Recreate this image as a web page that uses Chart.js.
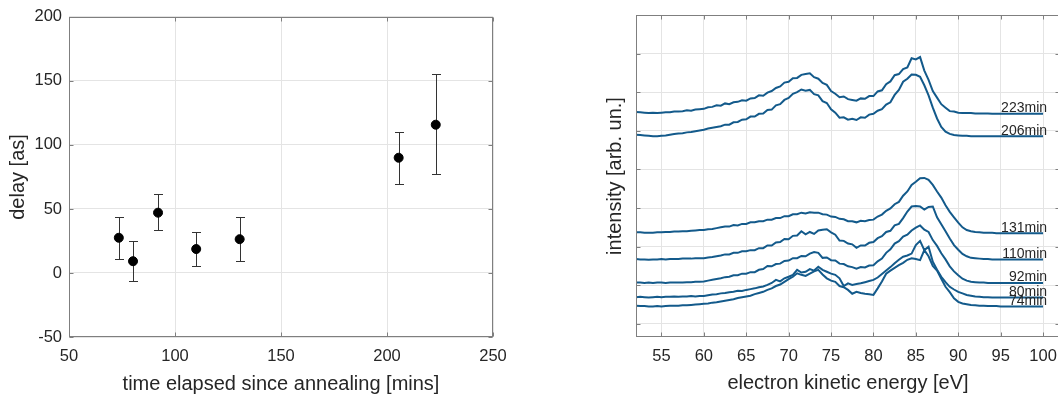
<!DOCTYPE html>
<html>
<head>
<meta charset="utf-8">
<script src="https://cdn.jsdelivr.net/npm/chart.js@4.4.1/dist/chart.umd.min.js"></script>
<style>
  html, body { margin: 0; padding: 0; background: #fff; overflow: hidden; }
  #left { position: absolute; left: 0; top: 0; }
  #right { position: absolute; left: 590px; top: 0; }
</style>
</head>
<body>
<canvas id="left" width="530" height="396"></canvas>
<canvas id="right" width="480" height="396"></canvas>
<script>
// Left panel: delay vs time
const times = [73.5, 80.2, 92, 110, 130.5, 205.5, 223];
const delay = [27.5, 9.2, 47.1, 18.7, 26.4, 90.0, 115.8];
const errLo = [11.2, -6.3, 33.2, 5.8, 9.7, 69.6, 77.0];
const errHi = [43.8, 24.7, 61.6, 32.1, 43.5, 110.1, 155.3];
const timeTicks = [50, 100, 150, 200, 250];
const delayTicks = [-50, 0, 50, 100, 150, 200];

// Right panel: spectra (offset, arb. units)
const energy = [52,52.5,53,53.5,54,54.5,55,55.5,56,56.5,
  57,57.5,58,58.5,59,59.5,60,60.5,61,61.5,
  62,62.5,63,63.5,64,64.5,65,65.5,66,66.5,
  67,67.5,68,68.5,69,69.5,70,70.5,71,71.5,
  72,72.5,73,73.5,74,74.5,75,75.5,76,76.5,
  77,77.5,78,78.5,79,79.5,80,80.5,81,81.5,
  82,82.5,83,83.5,84,84.5,85,85.5,86,86.5,
  87,87.5,88,88.5,89,89.5,90,90.5,91,91.5,
  92,92.5,93,93.5,94,94.5,95,95.5,96,96.5,
  97,97.5,98,98.5,99,99.5,100];
const s223 = [5.49,5.48,5.47,5.46,5.47,5.46,5.47,5.48,5.48,5.50,
  5.50,5.51,5.53,5.52,5.55,5.56,5.57,5.61,5.62,5.66,
  5.65,5.71,5.69,5.74,5.75,5.79,5.78,5.84,5.85,5.92,
  5.91,5.99,6.03,6.11,6.15,6.25,6.27,6.36,6.37,6.45,
  6.47,6.49,6.39,6.35,6.24,6.19,6.03,5.96,5.87,5.89,
  5.82,5.80,5.78,5.84,5.83,5.90,5.90,6.02,6.05,6.21,
  6.28,6.44,6.47,6.60,6.64,6.88,6.85,6.91,6.56,6.32,
  6.03,5.86,5.69,5.60,5.51,5.50,5.47,5.46,5.46,5.46,
  5.45,5.45,5.45,5.45,5.44,5.44,5.44,5.44,5.44,5.44,
  5.44,5.44,5.44,5.44,5.44,5.44,5.44];
const s206 = [4.90,4.89,4.88,4.87,4.86,4.86,4.87,4.88,4.90,4.92,
  4.93,4.94,4.96,4.97,4.99,5.01,5.03,5.06,5.08,5.10,
  5.12,5.16,5.16,5.22,5.23,5.29,5.30,5.37,5.37,5.44,
  5.45,5.54,5.55,5.66,5.69,5.80,5.85,5.96,6.00,6.07,
  6.04,6.06,5.95,5.92,5.77,5.72,5.56,5.47,5.34,5.35,
  5.29,5.31,5.28,5.35,5.34,5.42,5.44,5.52,5.56,5.68,
  5.74,5.93,6.06,6.27,6.35,6.46,6.45,6.40,6.18,5.92,
  5.60,5.32,5.10,4.98,4.92,4.89,4.88,4.87,4.87,4.86,
  4.86,4.86,4.86,4.86,4.86,4.86,4.86,4.86,4.86,4.86,
  4.86,4.86,4.86,4.86,4.86,4.86,4.86];
const s131 = [2.37,2.37,2.36,2.36,2.36,2.37,2.37,2.38,2.38,2.39,
  2.39,2.40,2.40,2.41,2.42,2.43,2.43,2.45,2.46,2.48,
  2.50,2.52,2.52,2.56,2.55,2.59,2.59,2.63,2.63,2.66,
  2.66,2.70,2.70,2.74,2.74,2.79,2.79,2.84,2.84,2.88,
  2.86,2.89,2.88,2.88,2.84,2.83,2.78,2.77,2.72,2.71,
  2.66,2.66,2.63,2.67,2.66,2.69,2.70,2.78,2.83,2.93,
  2.99,3.10,3.16,3.32,3.43,3.60,3.68,3.77,3.78,3.73,
  3.60,3.43,3.27,3.07,2.90,2.76,2.62,2.50,2.43,2.40,
  2.38,2.37,2.36,2.36,2.36,2.35,2.35,2.35,2.35,2.35,
  2.35,2.35,2.35,2.35,2.35,2.35,2.35];
const s110 = [1.68,1.67,1.67,1.66,1.67,1.67,1.68,1.67,1.68,1.68,
  1.68,1.69,1.69,1.69,1.70,1.70,1.70,1.72,1.73,1.75,
  1.77,1.80,1.80,1.84,1.84,1.88,1.88,1.91,1.91,1.96,
  1.96,2.03,2.03,2.11,2.12,2.20,2.19,2.28,2.29,2.40,
  2.32,2.38,2.33,2.42,2.44,2.45,2.37,2.31,2.16,2.15,
  2.08,2.06,1.97,2.03,2.03,2.10,2.12,2.22,2.27,2.38,
  2.41,2.55,2.59,2.74,2.91,3.04,3.05,3.04,2.96,3.03,
  3.04,2.76,2.58,2.40,2.21,2.04,1.92,1.81,1.75,1.71,
  1.70,1.69,1.68,1.68,1.67,1.67,1.67,1.67,1.67,1.67,
  1.67,1.67,1.67,1.67,1.67,1.67,1.67];
const s92 = [1.07,1.07,1.06,1.07,1.06,1.07,1.07,1.06,1.07,1.07,
  1.07,1.07,1.08,1.08,1.09,1.09,1.10,1.12,1.14,1.16,
  1.18,1.21,1.22,1.26,1.26,1.30,1.30,1.34,1.34,1.40,
  1.42,1.50,1.49,1.55,1.56,1.63,1.64,1.70,1.70,1.76,
  1.75,1.82,1.86,1.84,1.71,1.72,1.65,1.64,1.56,1.55,
  1.49,1.47,1.43,1.47,1.46,1.51,1.52,1.62,1.69,1.84,
  1.93,2.08,2.14,2.26,2.31,2.42,2.49,2.55,2.44,2.38,
  2.17,2.02,1.83,1.67,1.49,1.36,1.26,1.17,1.12,1.09,
  1.08,1.07,1.07,1.06,1.06,1.06,1.06,1.06,1.06,1.06,
  1.06,1.06,1.06,1.06,1.06,1.06,1.06];
const s80 = [0.69,0.70,0.69,0.68,0.69,0.70,0.69,0.70,0.70,0.71,
  0.70,0.71,0.71,0.72,0.71,0.72,0.72,0.74,0.76,0.77,
  0.79,0.80,0.82,0.83,0.86,0.85,0.88,0.90,0.92,0.95,
  0.97,1.01,1.06,1.14,1.10,1.18,1.22,1.27,1.40,1.33,
  1.35,1.42,1.38,1.48,1.40,1.35,1.30,1.27,1.18,0.98,
  1.05,1.01,1.03,1.05,1.08,1.11,1.14,1.20,1.29,1.38,
  1.47,1.57,1.66,1.74,1.77,1.82,2.04,2.15,1.91,2.00,
  1.61,1.40,1.22,1.08,0.96,0.89,0.83,0.79,0.75,0.73,
  0.71,0.70,0.69,0.69,0.68,0.68,0.68,0.68,0.68,0.68,
  0.68,0.68,0.68,0.68,0.68,0.68,0.68];
const s74 = [0.47,0.46,0.46,0.45,0.45,0.46,0.45,0.46,0.47,0.47,
  0.47,0.48,0.48,0.49,0.50,0.51,0.52,0.53,0.55,0.56,
  0.58,0.60,0.62,0.64,0.67,0.69,0.71,0.73,0.77,0.80,
  0.83,0.88,0.92,0.98,1.02,1.09,1.16,1.22,1.31,1.27,
  1.24,1.30,1.36,1.40,1.28,1.18,1.12,1.09,0.98,0.95,
  0.88,0.78,0.83,0.80,0.78,0.77,0.75,0.92,1.10,1.30,
  1.38,1.45,1.52,1.58,1.66,1.70,1.68,1.65,1.91,1.75,
  1.50,1.38,1.17,0.96,0.82,0.66,0.57,0.53,0.51,0.49,
  0.48,0.47,0.47,0.46,0.46,0.46,0.45,0.45,0.45,0.45,
  0.45,0.45,0.45,0.45,0.45,0.45,0.45];
const spectra = [s223, s206, s131, s110, s92, s80, s74];
const curveLabels = ['223min', '206min', '131min', '110min', '92min', '80min', '74min'];
const energyTicks = [55, 60, 65, 70, 75, 80, 85, 90, 95, 100];
const intensityTicks = [0, 1, 2, 3, 4, 5, 6, 7, 8];

// Styles
const fontFamily = '"Liberation Sans", Arial, sans-serif';
const textColor = '#262626';
const axisColor = '#7f7f7f';
const gridColor = '#e4e4e4';
const lineColor = '#135a8b';
const tickLen = 4;

// Box around the plot area with inward ticks, like the original
const boxPlugin = {
  id: 'box',
  afterDatasetsDraw(chart) {
    const { ctx, chartArea: a, scales } = chart;
    const l = Math.round(a.left) + 0.5, r = Math.round(a.right) - 0.5;
    const t = Math.round(a.top) + 0.5, b = Math.round(a.bottom) - 0.5;
    ctx.save();
    ctx.strokeStyle = axisColor;
    ctx.lineWidth = 1;
    ctx.strokeRect(l, t, r - l, b - t);
    ctx.beginPath();
    scales.x.ticks.forEach(tk => {
      const px = Math.round(scales.x.getPixelForValue(tk.value)) + 0.5;
      ctx.moveTo(px, b); ctx.lineTo(px, b - tickLen);
      ctx.moveTo(px, t); ctx.lineTo(px, t + tickLen);
    });
    scales.y.ticks.forEach(tk => {
      const py = Math.round(scales.y.getPixelForValue(tk.value)) + 0.5;
      ctx.moveTo(l, py); ctx.lineTo(l + tickLen, py);
      ctx.moveTo(r, py); ctx.lineTo(r - tickLen, py);
    });
    ctx.stroke();
    ctx.restore();
  }
};

const errorBarPlugin = {
  id: 'errorBars',
  beforeDatasetsDraw(chart) {
    const { ctx, scales } = chart;
    ctx.save();
    ctx.strokeStyle = '#333';
    ctx.lineWidth = 1;
    ctx.beginPath();
    times.forEach((t, i) => {
      const px = Math.round(scales.x.getPixelForValue(t)) + 0.5;
      const y1 = Math.round(scales.y.getPixelForValue(errLo[i])) + 0.5;
      const y2 = Math.round(scales.y.getPixelForValue(errHi[i])) + 0.5;
      ctx.moveTo(px, y1); ctx.lineTo(px, y2);
      ctx.moveTo(px - 4.5, y1); ctx.lineTo(px + 4.5, y1);
      ctx.moveTo(px - 4.5, y2); ctx.lineTo(px + 4.5, y2);
    });
    ctx.stroke();
    ctx.restore();
  }
};

const curveLabelPlugin = {
  id: 'curveLabels',
  afterDatasetsDraw(chart) {
    const { ctx, scales } = chart;
    ctx.save();
    ctx.font = '14px ' + fontFamily;
    ctx.fillStyle = textColor;
    ctx.textAlign = 'right';
    ctx.textBaseline = 'alphabetic';
    spectra.forEach((s, i) => {
      const px = scales.x.getPixelForValue(100) + 4;
      const py = scales.y.getPixelForValue(s[s.length - 1]) - 1.5;
      ctx.fillText(curveLabels[i], px, py);
    });
    ctx.restore();
  }
};

function setTicks(list) {
  return scale => { scale.ticks = list.map(v => ({ value: v })); };
}

const tickFont = { family: fontFamily, size: 16.5 };
const titleFont = { family: fontFamily, size: 20 };

new Chart(document.getElementById('left'), {
  type: 'scatter',
  data: {
    datasets: [{
      data: times.map((t, i) => ({ x: t, y: delay[i] })),
      backgroundColor: '#000',
      borderColor: '#000',
      pointRadius: 4.5,
      pointHoverRadius: 4.5
    }]
  },
  options: {
    responsive: false,
    animation: false,
    devicePixelRatio: 1,
    layout: { padding: { left: 0, top: 15, right: 37, bottom: 0 } },
    plugins: { legend: { display: false }, tooltip: { enabled: false } },
    scales: {
      x: {
        type: 'linear', min: 50, max: 250,
        afterBuildTicks: setTicks(timeTicks),
        afterFit: s => { s.height = 59; },
        grid: { color: gridColor, drawTicks: false },
        border: { display: false },
        ticks: { color: textColor, font: tickFont, padding: 10 },
        title: { display: true, text: 'time elapsed since annealing [mins]', color: textColor, font: titleFont, padding: { top: 0, bottom: 0 } }
      },
      y: {
        type: 'linear', min: -50, max: 200,
        afterBuildTicks: setTicks(delayTicks),
        afterFit: s => { s.width = 69; },
        grid: { color: gridColor, drawTicks: false },
        border: { display: false },
        ticks: { color: textColor, font: tickFont, padding: 7 },
        title: { display: true, text: 'delay [as]', color: textColor, font: titleFont, padding: { top: 6, bottom: 0 } }
      }
    }
  },
  plugins: [errorBarPlugin, boxPlugin]
});

new Chart(document.getElementById('right'), {
  type: 'line',
  data: {
    datasets: spectra.map((s, i) => ({
      label: curveLabels[i],
      data: energy.map((e, j) => ({ x: e, y: s[j] })),
      borderColor: lineColor,
      borderWidth: 2,
      pointRadius: 0,
      tension: 0,
      fill: false
    }))
  },
  options: {
    responsive: false,
    animation: false,
    devicePixelRatio: 1,
    layout: { padding: { left: 0, top: 15, right: 10, bottom: 0 } },
    plugins: { legend: { display: false }, tooltip: { enabled: false } },
    scales: {
      x: {
        type: 'linear', min: 52, max: 102,
        afterBuildTicks: setTicks(energyTicks),
        afterFit: s => { s.height = 59; },
        grid: { color: gridColor, drawTicks: false },
        border: { display: false },
        ticks: { color: textColor, font: tickFont, padding: 10 },
        title: { display: true, text: 'electron kinetic energy [eV]', color: textColor, font: titleFont, padding: { top: 0, bottom: 1 } }
      },
      y: {
        type: 'linear', min: -0.34, max: 8,
        afterBuildTicks: setTicks(intensityTicks),
        afterFit: s => { s.width = 46; },
        grid: { color: gridColor, drawTicks: false },
        border: { display: false },
        ticks: { display: false },
        title: { display: true, text: 'intensity [arb. un.]', color: textColor, font: titleFont, padding: { top: 13, bottom: 0 } }
      }
    }
  },
  plugins: [curveLabelPlugin, boxPlugin]
});
</script>
</body>
</html>
